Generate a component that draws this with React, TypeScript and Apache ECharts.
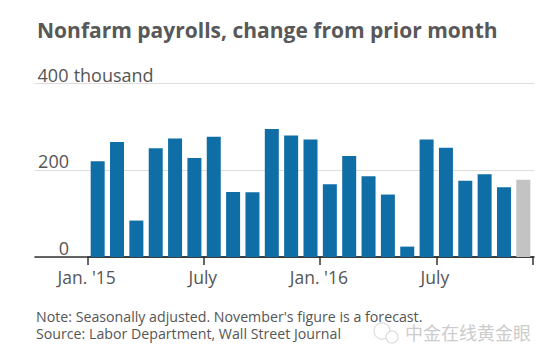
import React, { useEffect, useRef } from "react";
import * as echarts from "echarts";

const months = [
  "Jan. '15", "Feb.", "March", "April", "May", "June", "July", "Aug.", "Sept.", "Oct.", "Nov.", "Dec.",
  "Jan. '16", "Feb.", "March", "April", "May", "June", "July", "Aug.", "Sept.", "Oct.", "Nov.",
];
// thousands of jobs, change from prior month; the last value is the forecast
const payrolls = [221, 265, 84, 251, 273, 228, 277, 150, 149, 295, 280, 271, 168, 233, 186, 144, 24, 271, 252, 176, 191, 161, 178];
const forecastIndex = 22;
const yTicks = [0, 200, 400];
const tickedMonths = [0, 6, 12, 18];

const TITLE = "Nonfarm payrolls, change from prior month";
const NOTE = "Note: Seasonally adjusted. November's figure is a forecast.";
const SOURCE = "Source: Labor Department, Wall Street Journal";
const WATERMARK = "中金在线黄金眼";

const BLUE = "#0f6ea6";
const GRAY = "#c3c3c3";
const TEXT = "#555555";
const FONT = "'Open Sans', sans-serif";

export default function App() {
  const ref = useRef<HTMLDivElement>(null);
  useEffect(() => {
    if (!ref.current) return;
    const chart = echarts.init(ref.current, undefined, { renderer: "svg" });
    const yMax = yTicks[yTicks.length - 1];
    chart.setOption({
      animation: false,
      backgroundColor: "#ffffff",
      title: {
        text: TITLE,
        left: 32,
        top: 14,
        textStyle: { fontFamily: FONT, fontSize: 21, fontWeight: "bold", color: "#585858" },
      },
      grid: [
        { left: 35, right: 14, top: 83.5, bottom: 103 },
        { left: 88, right: 15, top: 83.5, bottom: 103 },
      ],
      xAxis: [
        {
          gridIndex: 0,
          type: "value",
          min: 0,
          max: 1,
          axisLine: { show: true, lineStyle: { color: "#333333", width: 1.6 } },
          axisTick: { show: false },
          axisLabel: { show: false },
          splitLine: { show: false },
        },
        {
          gridIndex: 1,
          type: "category",
          data: months,
          boundaryGap: true,
          axisLine: { show: true, lineStyle: { color: "#333333", width: 1.6 } },
          axisTick: {
            show: true,
            alignWithLabel: false,
            interval: (i: number) => tickedMonths.includes(i),
            length: 8,
            lineStyle: { color: "#333333", width: 1.5 },
          },
          axisLabel: {
            interval: (i: number) => tickedMonths.includes(i),
            margin: 11,
            padding: [0, 22, 0, 0],
            fontFamily: FONT,
            fontSize: 17.5,
            color: TEXT,
          },
        },
      ],
      yAxis: [
        {
          gridIndex: 0,
          type: "value",
          min: 0,
          max: yMax,
          interval: 200,
          axisLine: { show: false },
          axisTick: { show: false },
          splitLine: { show: true, lineStyle: { color: "#dddddd", width: 1 } },
          axisLabel: {
            inside: true,
            margin: 2,
            verticalAlign: "bottom",
            formatter: (v: number) => (v === yMax ? `{n|${v}}{t| thousand}` : `{n|${v}}`),
            rich: {
              n: { width: 32, align: "right", fontFamily: FONT, fontSize: 18, color: TEXT },
              t: { fontFamily: FONT, fontSize: 18, color: TEXT },
            },
          },
        },
        {
          gridIndex: 1,
          type: "value",
          min: 0,
          max: yMax,
          interval: 200,
          show: false,
          splitLine: { show: false },
        },
      ],
      series: [
        {
          type: "bar",
          xAxisIndex: 1,
          yAxisIndex: 1,
          barWidth: 14,
          data: payrolls.map((v, i) => ({
            value: v,
            itemStyle: { color: i === forecastIndex ? GRAY : BLUE },
          })),
        },
      ],
      graphic: [
        {
          type: "text",
          left: 36,
          top: 309,
          style: { text: NOTE, fontFamily: FONT, fontSize: 14.2, lineHeight: 14, fill: TEXT },
        },
        {
          type: "text",
          left: 36,
          top: 326,
          style: { text: SOURCE, fontFamily: FONT, fontSize: 14.2, lineHeight: 14, fill: TEXT },
        },
        {
          type: "circle",
          shape: { cx: 382, cy: 331, r: 8 },
          style: { fill: "none", stroke: "#dddddd", lineWidth: 1.2 },
        },
        {
          type: "circle",
          shape: { cx: 392, cy: 337, r: 6 },
          style: { fill: "#ffffff", stroke: "#dddddd", lineWidth: 1.2 },
        },
        {
          type: "text",
          left: 405,
          top: 323,
          style: {
            text: WATERMARK,
            fontFamily: "'Noto Sans CJK SC', sans-serif",
            fontSize: 18,
            fill: "#cccccc",
          },
        },
      ],
    });
    return () => chart.dispose();
  }, []);
  return (
    <div
      ref={ref}
      style={{ position: "fixed", left: 0, top: 0, width: 548, height: 360, background: "#fff" }}
    />
  );
}
